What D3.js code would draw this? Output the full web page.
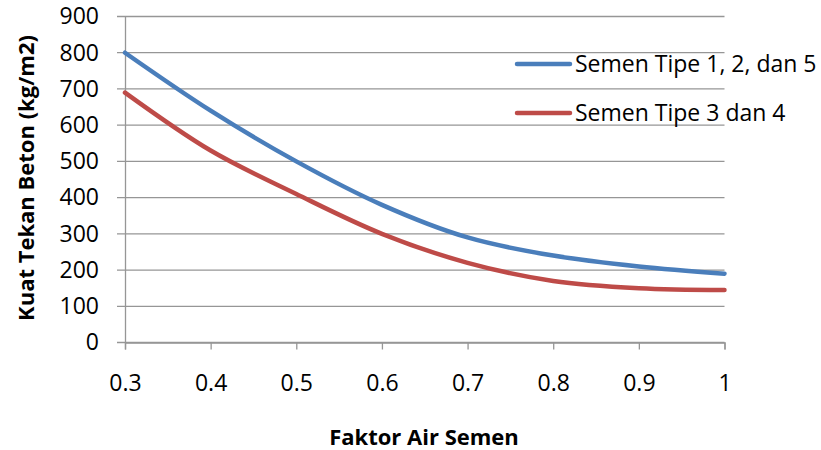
<!DOCTYPE html>
<html lang="id">
<head>
<meta charset="utf-8">
<title>Kuat Tekan Beton</title>
<script src="https://d3js.org/d3.v7.min.js"></script>
<style>
  body { margin: 0; background: #fff; }
  svg { display: block; }
  svg text { font-family: "Open Sans", "Liberation Sans", sans-serif; }
</style>
</head>
<body>
<div id="chart"></div>
<script>
const faktorAir = [0.3, 0.4, 0.5, 0.6, 0.7, 0.8, 0.9, 1.0];
const tipe125 = [800, 640, 500, 380, 290, 240, 210, 190];
const tipe34 = [690, 530, 410, 300, 220, 170, 150, 145];
const seriesNames = ["Semen Tipe 1, 2, dan 5", "Semen Tipe 3 dan 4"];
const seriesColors = ["#4a7ebb", "#be4b48"];
const xTicks = [0.3, 0.4, 0.5, 0.6, 0.7, 0.8, 0.9, 1];
const yTicks = [0, 100, 200, 300, 400, 500, 600, 700, 800, 900];

const width = 821, height = 450;
const svg = d3.select('#chart').append('svg')
  .attr('width', width).attr('height', height);

const x = d3.scaleLinear().domain([0.3, 1]).range([125, 724.5]);
const y = d3.scaleLinear().domain([0, 900]).range([342.5, 16.5]);

// gridlines
svg.append('g')
  .selectAll('line')
  .data(yTicks)
  .join('line')
  .attr('x1', 117).attr('x2', x(1))
  .attr('y1', d => y(d)).attr('y2', d => y(d))
  .attr('stroke', '#969696').attr('stroke-width', 1.3);

// y axis
const yAxis = d3.axisLeft(y).tickValues(yTicks).tickSize(0).tickPadding(26);
const gy = svg.append('g').attr('transform', `translate(${x(0.3)},0)`).call(yAxis);
gy.select('.domain').attr('stroke', '#969696').attr('stroke-width', 1.3);
gy.selectAll('text').attr('font-size', 23).attr('fill', '#000');

// x axis
const xAxis = d3.axisBottom(x).tickValues(xTicks).tickSize(7).tickPadding(25)
  .tickFormat(d => d === 1 ? '1' : d3.format('.1f')(d));
const gx = svg.append('g').attr('transform', `translate(0,${y(0)})`).call(xAxis);
gx.select('.domain').attr('stroke', '#969696').attr('stroke-width', 1.3);
gx.selectAll('.tick line').attr('stroke', '#969696').attr('stroke-width', 1.3);
gx.selectAll('text').attr('font-size', 23).attr('fill', '#000');

// lines
const line = d3.line()
  .x((d, i) => x(faktorAir[i]))
  .y(d => y(d))
  .curve(d3.curveCatmullRom.alpha(0.5));

[tipe125, tipe34].forEach((vals, i) => {
  svg.append('path')
    .datum(vals)
    .attr('d', line)
    .attr('fill', 'none')
    .attr('stroke', seriesColors[i])
    .attr('stroke-width', 4.5)
    .attr('stroke-linecap', 'round');
});

// legend
const legend = svg.append('g');
seriesNames.forEach((name, i) => {
  const ly = 64 + i * 49;
  legend.append('line')
    .attr('x1', 517).attr('x2', 570)
    .attr('y1', ly).attr('y2', ly)
    .attr('stroke', seriesColors[i]).attr('stroke-width', 4.5)
    .attr('stroke-linecap', 'round');
  legend.append('text')
    .attr('x', 575).attr('y', ly).attr('dy', '0.36em')
    .attr('font-size', 23)
    .text(name);
});

// axis titles
svg.append('text')
  .attr('x', 424).attr('y', 445)
  .attr('text-anchor', 'middle')
  .attr('font-size', 22).attr('font-weight', 'bold')
  .text('Faktor Air Semen');

svg.append('text')
  .attr('transform', 'translate(34,178) rotate(-90)')
  .attr('text-anchor', 'middle')
  .attr('font-size', 22).attr('font-weight', 'bold')
  .text('Kuat Tekan Beton (kg/m2)');
</script>
</body>
</html>
